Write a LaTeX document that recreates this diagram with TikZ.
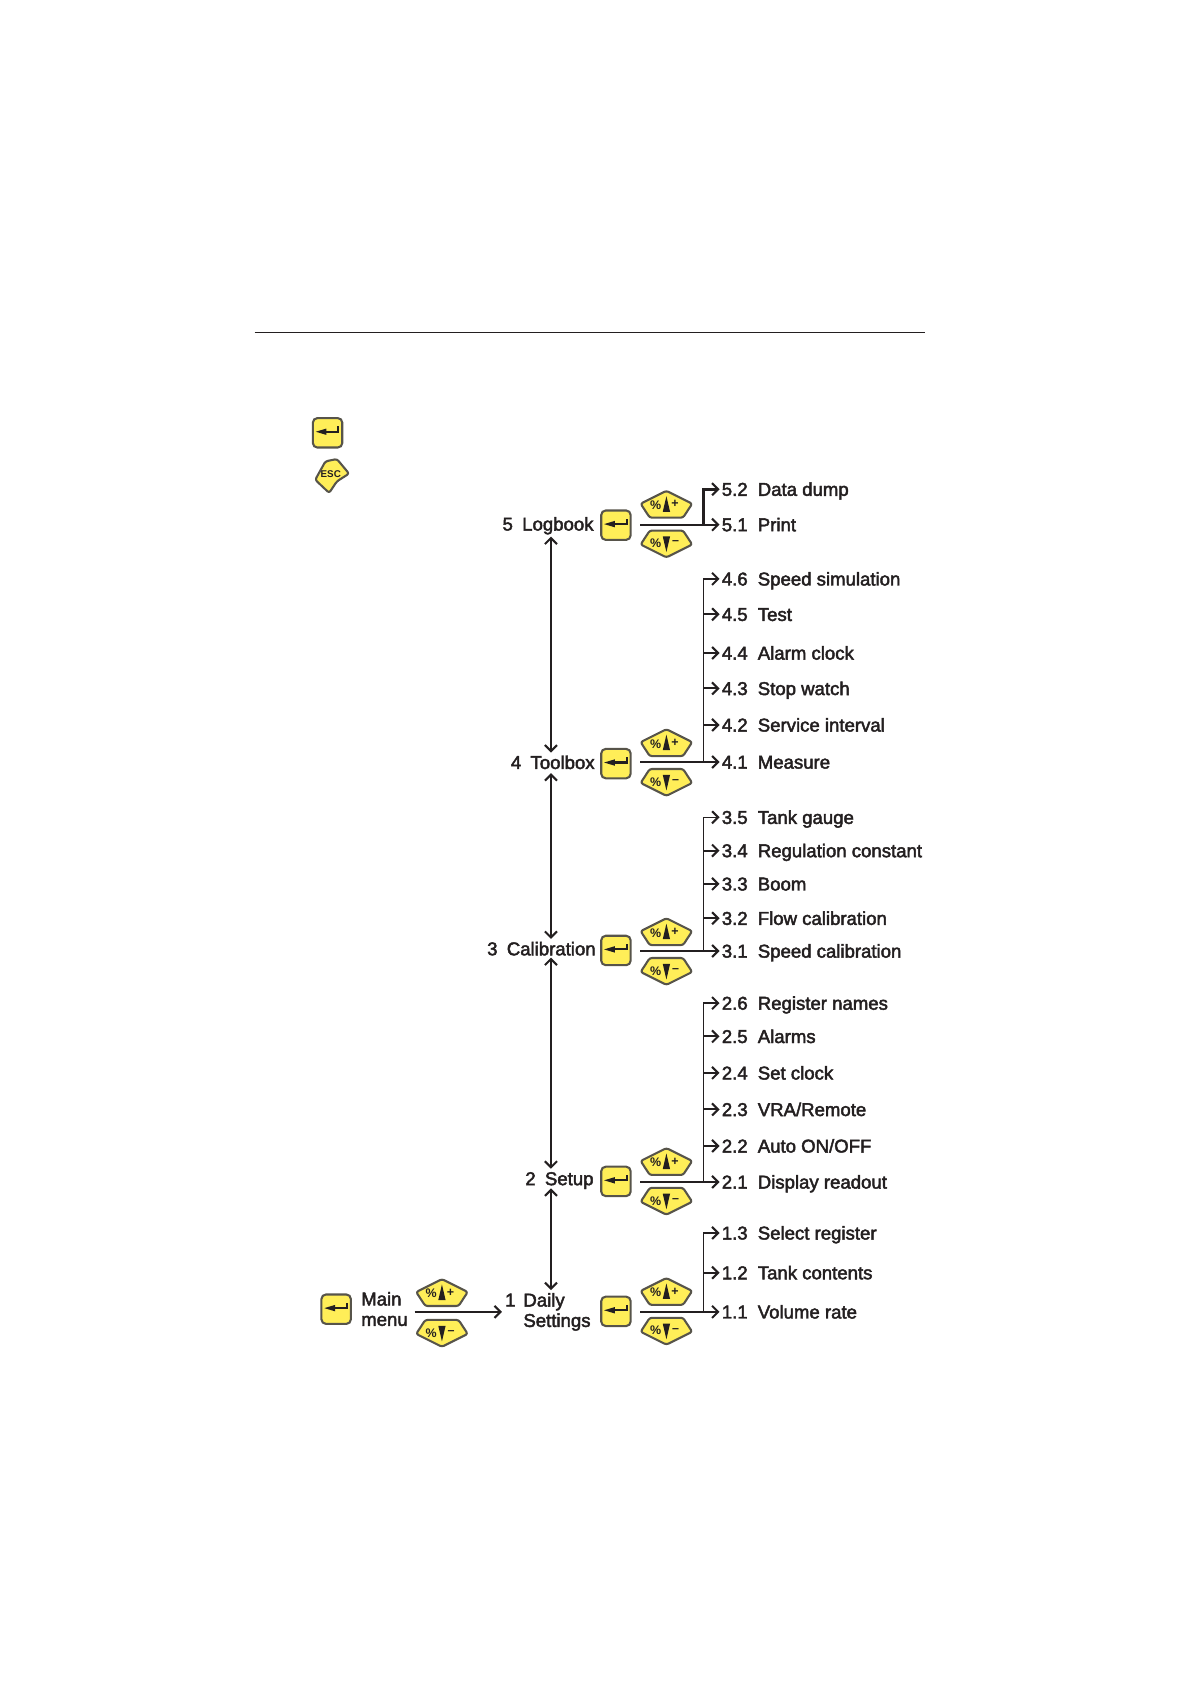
\documentclass[tikz,border=0pt]{standalone}
\usepackage{fontspec}
\setmainfont[FakeBold=2.4]{Liberation Sans}
\newfontfamily\keyfont{Liberation Sans Bold}
\usetikzlibrary{arrows.meta}
\definecolor{keyyellow}{HTML}{FFEE58}
\definecolor{keyedge}{HTML}{57544A}
\definecolor{ink}{HTML}{231F20}
\tikzset{
  conn/.style={draw=ink,line width=1.1pt},
  arrowtip/.style={>={Straight Barb[length=3.2pt,width=6.4pt,line width=1.1pt]}},
  itemtxt/.style={font=\fontsize{9.85}{11}\selectfont,text=ink,inner sep=1pt,anchor=west,text height=7pt,text depth=0pt},
  menutxt/.style={font=\fontsize{9.85}{10.8}\selectfont,text=ink,inner xsep=0pt,inner ysep=1.5pt,text height=7pt,text depth=1.5pt},
  keybox/.style={draw=keyedge,fill=keyyellow,line width=1.1pt,rounded corners=2.4pt,minimum size=15.6pt,inner sep=0pt},
  keyshape/.style={draw=keyedge,fill=keyyellow,line width=1.1pt,rounded corners=1.2pt,line join=round},
  keytxt/.style={font=\keyfont\fontsize{6.6}{6.6}\selectfont,text=ink,inner sep=0pt},
  enterkey/.pic={
    \node[keybox] (-box) {};
    \fill[ink] (-11,-1) -- (-1,-4) -- (-1,2) -- cycle;
    \draw[ink,line width=1.1pt] (-1,-1) -- (10,-1) -- (10,-6);
  },
  upkey/.pic={
    \path[keyshape] (0,-13) -- (24,-1) -- (15.5,12) -- (-15.5,12) -- (-24,-1) -- cycle;
    \fill[ink] (0,-8) -- (3.4,6.5) -- (-3.4,6.5) -- cycle;
    \node[keytxt] (-pct) at (-10,0.5) {\%};
    \node[keytxt] (-sign) at (8,-0.5) {+};
  },
  downkey/.pic={
    \path[keyshape] (0,13) -- (24,1) -- (15.5,-12) -- (-15.5,-12) -- (-24,1) -- cycle;
    \fill[ink] (0,8) -- (3.4,-6.5) -- (-3.4,-6.5) -- cycle;
    \node[keytxt] (-pct) at (-10,0) {\%};
    \node[keytxt] (-sign) at (8.5,-0.5) {–};
  },
  esckey/.pic={
    \path[keyshape] (-6,-12.4) -- (4.7,-14.6) -- (16,-1) -- (4.7,6.2) -- (-2.5,17) -- (-15.5,4.7) -- cycle;
    \node[keytxt,font=\keyfont\fontsize{5.2}{5.2}\selectfont] (-lbl) at (-1,-0.5) {ESC};
  }
}
\begin{document}
\begin{tikzpicture}[x=0.02cm,y=-0.02cm,arrowtip]
  \useasboundingbox (0,0) rectangle (1108,1568);
  \coordinate (ruleL) at (237,309.5); \coordinate (ruleR) at (861,309.5);
  \draw[ink,line width=0.45pt] (ruleL) -- (ruleR);
  \pic (enterlegend) at (305,403) {enterkey};
  \pic (esclegend) at (309,442) {esckey};
  % keys beside each menu
  \foreach \r/\ky/\uy/\dy in {5/489/470/506,4/711/692/728,3/885/868/904,2/1100/1082/1118,1/1221/1203/1239} {
    \pic (e\r) at (573.5,\ky) {enterkey};
    \pic (u\r) at (620.5,\uy) {upkey};
    \pic (d\r) at (620.5,\dy) {downkey};
  }
  \pic (emain) at (313,1219) {enterkey};
  \pic (umain) at (411.5,1204) {upkey};
  \pic (dmain) at (411.5,1241) {downkey};
  % sub menu items
  \foreach \r/\i/\y/\t in {5/2/455.5/Data dump,5/1/488.5/Print,
    4/6/539/Speed simulation,4/5/572/Test,4/4/608/Alarm clock,4/3/641/Stop watch,4/2/675/Service interval,4/1/709.5/Measure,
    3/5/761/Tank gauge,3/4/792/Regulation constant,3/3/823/Boom,3/2/855/Flow calibration,3/1/885.5/Speed calibration,
    2/6/934/Register names,2/5/965/Alarms,2/4/999/Set clock,2/3/1033/{VRA/Remote},2/2/1067/{Auto ON/OFF},2/1/1100.5/Display readout,
    1/3/1148/Select register,1/2/1185/Tank contents,1/1/1221.5/Volume rate} {
    \node[itemtxt] (n\r\i) at (670,\y) {\r.\i};
    \node[itemtxt] (t\r\i) at (703.5,\y) {\t};
  }
  % menu names
  \node[menutxt,anchor=base east] (m5) at (553,494) {5\enspace Logbook};
  \node[menutxt,anchor=base east] (m4) at (554,716) {4\enspace Toolbox};
  \node[menutxt,anchor=base east] (m3) at (555,889.5) {3\enspace Calibration};
  \node[menutxt,anchor=base east] (m2) at (553,1103.5) {2\enspace Setup};
  \node[menutxt,anchor=base west,align=left] (m1) at (487,1235.5) {Daily\\Settings};
  \node[menutxt,anchor=base west] (m1num) at (470,1216.5) {1};
  \node[menutxt,anchor=base west,align=left] (mainmenu) at (336,1234.5) {Main\\menu};
  \coordinate (axis) at (513,0);
  \draw[conn,<->] (axis |- m5.south) -- (axis |- m4.north);
  \draw[conn,<->,shorten <=-1pt] (axis |- m4.south) -- (axis |- m3.north);
  \draw[conn,<->,shorten <=-2pt] (axis |- m3.south) -- (axis |- m2.north);
  \draw[conn,<->,shorten <=-1.5pt] (axis |- m2.south) -- (axis |- m1num.north);
  \coordinate (mainstart) at (386,1221.5);
  \draw[conn,->,shorten >=1.5pt] (mainstart) -- (mainstart -| m1num.west);
  % branch lines
  \foreach \r/\high/\lw in {5/2/1.5pt,4/6/0.8pt,3/5/0.8pt,2/6/0.8pt,1/3/0.8pt} {
    \coordinate (s\r) at (596,0 |- n\r1);
    \coordinate (j\r) at (655,0 |- n\r1);
    \draw[conn,->] (s\r) -- (n\r1.west);
    \draw[conn,->,line width=\lw] (j\r) |- (n\r\high.west);
  }
  \foreach \r/\i in {4/5,4/4,4/3,4/2,3/4,3/3,3/2,2/5,2/4,2/3,2/2,1/2} {
    \draw[conn,->] (j\r |- n\r\i.west) -- (n\r\i.west);
  }
\end{tikzpicture}
\end{document}
